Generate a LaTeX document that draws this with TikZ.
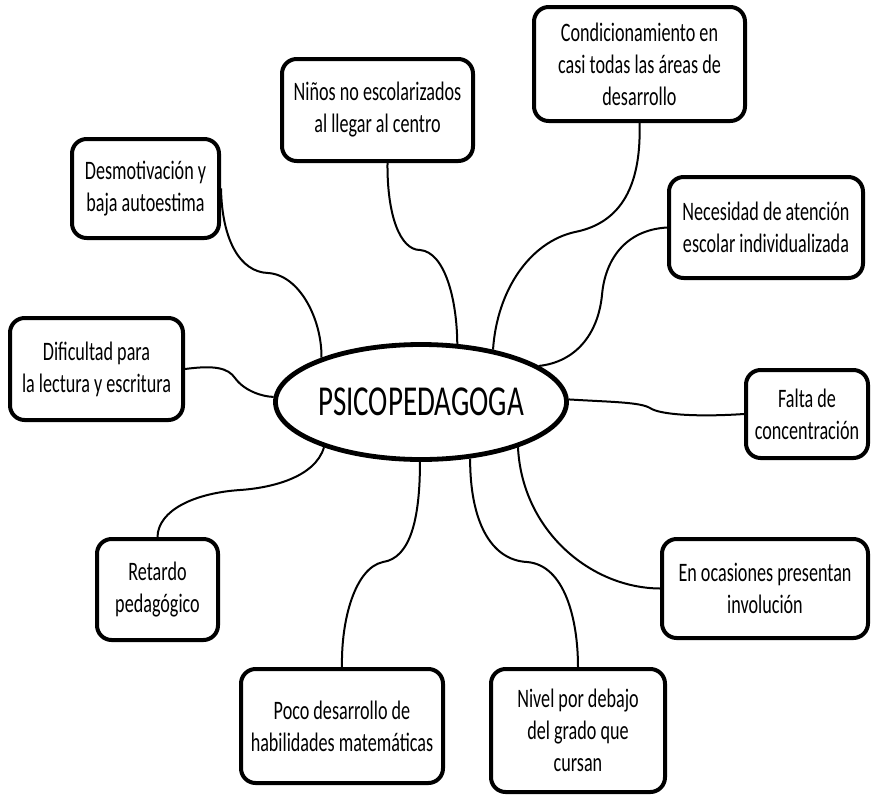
\documentclass[tikz,border=0pt]{standalone}
\usepackage{fontspec}
\setmainfont[FakeStretch=0.68]{Carlito}
\usetikzlibrary{shapes.geometric,calc}
\tikzset{
  box/.style 2 args={draw=black, line width=3pt, rounded corners=11pt, fill=white,
    minimum width=#1*0.75pt, minimum height=#2*0.75pt, align=center, inner sep=0pt,
    font=\fontsize{20}{24}\selectfont},
  hub/.style={draw=black, line width=3.6pt, ellipse, fill=white, inner sep=0pt,
    minimum width=272*0.75pt, minimum height=115*0.75pt, font=\fontsize{32}{36}\selectfont},
  link/.style={line width=1.5pt}
}
\begin{document}
\begin{tikzpicture}[x=0.75pt, y=-0.75pt]
\useasboundingbox (0,0) rectangle (872,797);
\path (421,402) coordinate (cc);
\node[box={191}{102}] (ninos) at (377.5,110) {Niños no escolarizados\\al llegar al centro};
\node[box={211}{114}] (cond) at (639.5,64) {Condicionamiento en\\casi todas las áreas de\\desarrollo};
\node[box={147}{99}] (desm) at (145.5,188.5) {Desmotivación y\\baja autoestima};
\node[box={194}{101}] (nec) at (766,227.5) {Necesidad de atención\\escolar individualizada};
\node[box={173}{102}] (dif) at (96.5,369) {Dificultad para\\la lectura y escritura};
\node[box={122}{88}] (falta) at (807,414) {Falta de\\concentración};
\node[box={121}{101}] (ret) at (157.5,589.5) {Retardo\\pedagógico};
\node[box={206}{99}] (en) at (765,588.5) {En ocasiones presentan\\involución};
\node[box={202}{114}] (poco) at (342,726) {Poco desarrollo de\\habilidades matemáticas};
\node[box={174}{123}] (nivel) at (578,730.5) {Nivel por debajo\\del grado que\\cursan};
\node[hub] (c) at (cc) {PSICOPEDAGOGA};
% connectors
\draw[link] ($(ninos.south)+(10,0)$) .. controls (387,215) and (400,250) .. (420,250)
  .. controls (445,252) and (457,300) .. (c.58);
\draw[link] (cond.south) .. controls (642,200) and (610,225) .. (575,232)
  .. controls (530,242) and (497,290) .. (c.36);
\draw[link] (desm.east) .. controls (222,240) and (240,272) .. (268,273)
  .. controls (300,275) and (322,320) .. (c.156);
\draw[link] (dif.east) .. controls (215,365) and (228,368) .. (235,378)
  .. controls (245,392) and (265,397) .. (c.178);
\draw[link] (nec.west) .. controls (625,230) and (605,260) .. (602,295)
  .. controls (598,335) and (575,362) .. (c.17);
\draw[link] (c.1) .. controls (610,402) and (640,402) .. (650,408)
  .. controls (660,415) and (700,417) .. (falta.west);
\draw[link] (c.205) .. controls (315,478) and (270,488) .. (240,490)
  .. controls (195,493) and (158,510) .. (ret.north);
\draw[link] (c.269) .. controls (420,520) and (410,558) .. (383,562)
  .. controls (355,568) and (341,620) .. (poco.north);
\draw[link] (c.311) .. controls (470,520) and (490,560) .. (527,562)
  .. controls (565,565) and (578,620) .. (nivel.north);
\draw[link] (c.335) .. controls (522,530) and (590,588) .. (en.west);
\end{tikzpicture}
\end{document}
